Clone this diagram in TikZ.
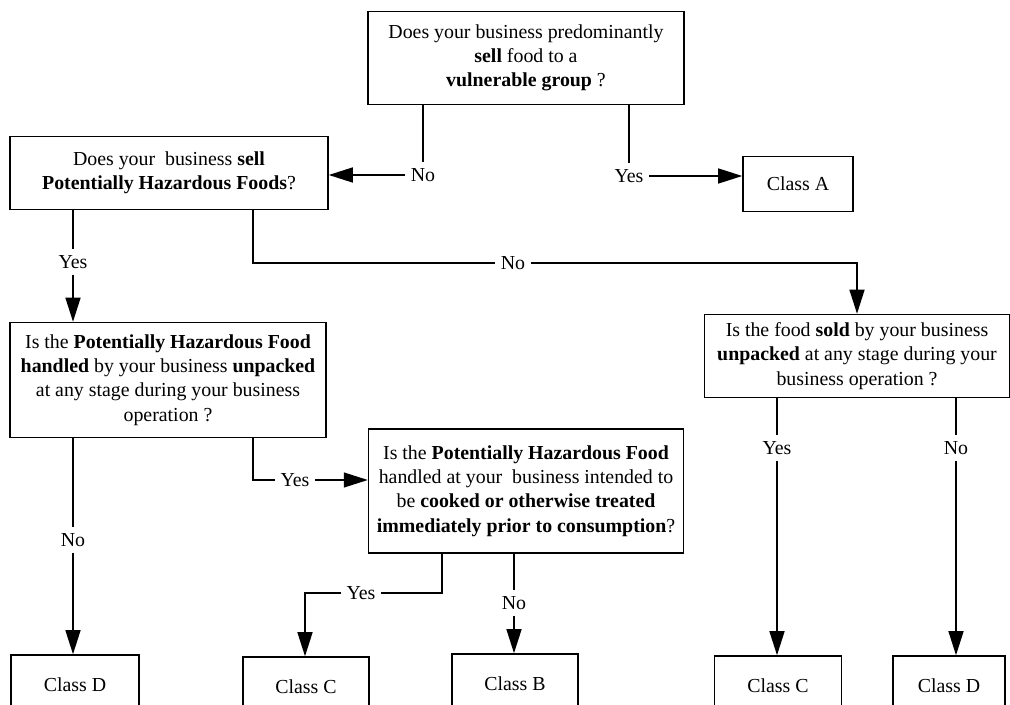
\documentclass[tikz,border=0pt]{standalone}
\usepackage{fontspec}
\setmainfont{Liberation Serif}
\usetikzlibrary{arrows.meta,calc}

\begin{document}
\begin{tikzpicture}[x=0.02cm,y=-0.02cm,line width=0.8pt,
  box/.style={draw,line width=0.9pt,align=center,inner sep=2pt,
    font=\fontsize{11.3}{13.8}\selectfont},
  lbl/.style={inner sep=3pt,font=\fontsize{11.3}{13}\selectfont},
  arr/.style={-{Triangle[length=0.48cm,width=0.3cm]}}]
  \clip (0,0) rectangle (1010,705);
%Questions
  \node[box,minimum width=6.32cm,minimum height=1.86cm] (q1) at (526,58)
    {Does your business predominantly\\ \textbf{sell} food to a\\ \textbf{vulnerable group} ?};
  \node[box,minimum width=6.36cm,minimum height=1.46cm] (q2) at (169,173)
    {Does your \ business \textbf{sell}\\ \textbf{Potentially Hazardous Foods}?};
  \node[box,minimum width=6.32cm,minimum height=2.3cm] (q3) at (168,380)
    {Is the \textbf{Potentially Hazardous Food}\\ \textbf{handled} by your business \textbf{unpacked}\\ at any stage during your business\\ operation ?};
  \node[box,minimum width=6.3cm,minimum height=2.48cm] (q4) at (526,491)
    {Is the \textbf{Potentially Hazardous Food}\\ handled at your \ business intended to\\ be \textbf{cooked or otherwise treated}\\ \textbf{immediately prior to consumption}?};
  \node[box,minimum width=6.1cm,minimum height=1.66cm] (q5) at (857,356)
    {Is the food \textbf{sold} by your business\\ \textbf{unpacked} at any stage during your\\ business operation ?};
%Classes
  \node[box,minimum width=2.2cm,minimum height=1.1cm] (cA) at (798,184) {Class A};
  \node[box,minimum width=2.56cm,minimum height=1.2cm] (cD1) at (75,685) {Class D};
  \node[box,minimum width=2.52cm,minimum height=1.2cm] (cC1) at (306,687) {Class C};
  \node[box,minimum width=2.52cm,minimum height=1.2cm] (cB) at (515,684) {Class B};
  \node[box,minimum width=2.54cm,minimum height=1.2cm] (cC2) at (778,686) {Class C};
  \node[box,minimum width=2.24cm,minimum height=1.2cm] (cD2) at (949,686) {Class D};
%Labels
  \node[lbl] (no1) at (423,175) {No};
  \node[lbl] (yes1) at (629,176) {Yes};
  \node[lbl] (yes2) at (73,262) {Yes};
  \node[lbl] (no2) at (513,263) {No};
  \node[lbl] (no3) at (73,540) {No};
  \node[lbl] (yes3) at (295,480) {Yes};
  \node[lbl] (yes4) at (361,593) {Yes};
  \node[lbl] (no4) at (514,603) {No};
  \node[lbl] (yes5) at (777,448) {Yes};
  \node[lbl] (no5) at (956,448) {No};
  \coordinate (bendA) at (253,263);
  \coordinate (bendB) at (253,480);
  \coordinate (bendC) at (442,593);
  \coordinate (bendD) at (305,593);
%Connectors
  \draw (q1.south -| no1) -- (no1.north);
  \draw[arr] (no1.west) -- (q2.east |- no1.west);
  \draw (q1.south -| yes1) -- (yes1.north);
  \draw[arr] (yes1.east) -- (cA.west |- yes1.east);
  \draw (q2.south -| yes2) -- (yes2.north);
  \draw[arr] (yes2.south) -- (q3.north -| yes2);
  \draw (q2.south -| bendA) -- (bendA) -- (no2.west);
  \draw[arr] (no2.east) -| (q5.north);
  \draw (q3.south -| no3) -- (no3.north);
  \draw[arr] (no3.south) -- (cD1.north -| no3);
  \draw (q3.south -| bendB) -- (bendB) -- (yes3.west);
  \draw[arr] (yes3.east) -- (q4.west |- yes3.east);
  \draw (q4.south -| bendC) -- (bendC) -- (yes4.east);
  \draw[arr] (yes4.west) -- (bendD) -- (cC1.north -| bendD);
  \draw (q4.south -| no4) -- (no4.north);
  \draw[arr] (no4.south) -- (cB.north -| no4);
  \draw (q5.south -| yes5) -- (yes5.north);
  \draw[arr] (yes5.south) -- (cC2.north -| yes5);
  \draw (q5.south -| no5) -- (no5.north);
  \draw[arr] (no5.south) -- (cD2.north -| no5);
\end{tikzpicture}
\end{document}
